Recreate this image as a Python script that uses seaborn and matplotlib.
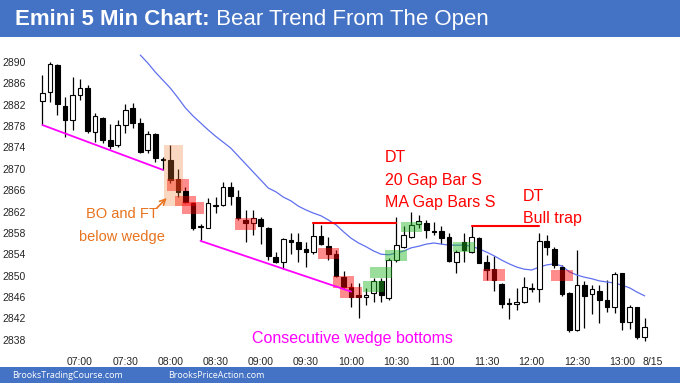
import matplotlib
matplotlib.use('Agg')
import matplotlib.pyplot as plt
from matplotlib.patches import Rectangle
from matplotlib.text import Annotation
import numpy as np
import pandas as pd
import seaborn as sns

sns.set_style('white')
plt.rcParams['font.family'] = ['Liberation Sans', 'DejaVu Sans']

# 5 min bars, 06:35 .. 13:15
opens = [2882.75, 2884.3, 2889.5, 2881.8, 2879.1, 2883.8, 2885.1, 2876.95, 2879.6, 2875.4,
         2874.5, 2878.2, 2881.3, 2878.6, 2873.5, 2876.6, 2871.9, 2871.6, 2868.1, 2865.9,
         2863.5, 2859.1, 2859.0, 2863.1, 2863.2, 2866.5, 2864.8, 2860.4, 2859.8, 2860.6,
         2858.9, 2853.4, 2852.6, 2856.7, 2856.2, 2855.0, 2854.4, 2857.4, 2855.5, 2854.0,
         2849.75, 2847.9, 2846.4, 2845.9, 2846.7, 2848.9, 2845.75, 2852.9, 2855.4, 2857.3,
         2859.7, 2859.9, 2858.35, 2858.35, 2857.2, 2852.6, 2856.2, 2854.5, 2857.0, 2852.6,
         2851.2, 2848.4, 2844.8, 2844.7, 2845.1, 2847.6, 2847.4, 2856.5, 2854.9, 2851.7,
         2846.7, 2839.8, 2848.2, 2846.55, 2847.2, 2845.4, 2844.1, 2850.4, 2841.4, 2844.2,
         2838.55]
closes = [2884.25, 2889.6, 2882.1, 2879.1, 2883.8, 2885.1, 2877.1, 2879.9, 2875.4, 2874.3,
          2878.2, 2881.1, 2878.6, 2873.2, 2876.5, 2872.0, 2871.7, 2867.9, 2865.7, 2863.8,
          2858.9, 2859.3, 2863.5, 2863.3, 2866.5, 2864.9, 2860.7, 2859.8, 2860.7, 2859.3,
          2853.7, 2852.6, 2856.85, 2856.3, 2854.9, 2854.4, 2857.5, 2855.9, 2854.0, 2849.9,
          2847.9, 2845.9, 2845.9, 2846.3, 2848.9, 2846.4, 2852.9, 2855.7, 2857.6, 2859.5,
          2860.3, 2858.5, 2858.1, 2857.0, 2852.8, 2854.5, 2854.8, 2857.2, 2852.4, 2851.05,
          2849.2, 2844.7, 2844.6, 2845.1, 2847.9, 2847.4, 2856.5, 2855.3, 2852.0, 2846.55,
          2839.9, 2848.2, 2846.2, 2847.5, 2845.4, 2844.1, 2850.25, 2841.4, 2844.2, 2838.45,
          2840.3]
highs = [2887.5, 2890.0, 2889.7, 2883.5, 2887.25, 2886.8, 2885.7, 2880.5, 2879.7, 2878.4,
         2879.1, 2882.1, 2882.3, 2879.5, 2877.0, 2876.7, 2872.3, 2874.5, 2869.9, 2866.5,
         2863.8, 2859.7, 2864.5, 2864.8, 2867.6, 2867.6, 2866.0, 2862.3, 2862.3, 2861.0,
         2859.1, 2854.5, 2857.1, 2857.9, 2858.0, 2856.35, 2859.9, 2859.5, 2857.2, 2854.8,
         2850.9, 2848.6, 2848.6, 2847.6, 2849.6, 2849.5, 2853.2, 2861.0, 2859.2, 2862.0,
         2861.35, 2860.4, 2860.1, 2859.2, 2857.9, 2854.8, 2857.9, 2859.2, 2857.2, 2853.9,
         2853.7, 2848.6, 2845.75, 2847.6, 2849.8, 2848.6, 2857.9, 2857.6, 2855.4, 2852.0,
         2847.0, 2854.7, 2848.9, 2848.2, 2848.2, 2849.2, 2850.7, 2850.5, 2844.5, 2844.2,
         2842.0]
lows = [2878.2, 2882.6, 2880.1, 2875.9, 2877.3, 2882.9, 2876.7, 2875.1, 2874.8, 2873.7,
        2874.1, 2876.7, 2877.6, 2873.0, 2873.0, 2871.3, 2869.8, 2867.3, 2864.8, 2863.5,
        2858.5, 2856.7, 2858.9, 2861.7, 2863.0, 2863.2, 2860.4, 2856.35, 2857.6, 2856.0,
        2852.9, 2852.3, 2851.2, 2854.0, 2852.6, 2851.7, 2854.0, 2855.7, 2852.9, 2849.7,
        2847.6, 2844.1, 2842.0, 2844.5, 2845.1, 2845.1, 2845.4, 2852.5, 2855.1, 2857.0,
        2858.9, 2857.0, 2857.6, 2856.0, 2852.6, 2850.5, 2852.6, 2854.2, 2852.4, 2849.2,
        2847.2, 2843.9, 2841.8, 2843.6, 2844.9, 2847.0, 2845.1, 2853.9, 2851.4, 2846.2,
        2839.5, 2839.6, 2840.1, 2842.8, 2841.1, 2843.2, 2842.9, 2839.8, 2840.0, 2838.1,
        2837.8]

# 20 bar moving average, visible from bar 13
ma_start = 13
ma = [2891.3, 2889.8, 2888.1, 2886.6, 2885.1, 2883.3, 2881.4, 2879.9, 2878.6, 2877.3,
      2876.1, 2875.0, 2873.9, 2872.4, 2870.9, 2869.4, 2867.9, 2866.4, 2865.7, 2864.7,
      2864.0, 2863.0, 2862.3, 2861.7, 2861.2, 2860.4, 2859.5, 2858.2, 2857.0, 2856.1,
      2855.4, 2854.6, 2854.0, 2853.9, 2854.2, 2854.6, 2855.2, 2855.5, 2855.9, 2856.1,
      2855.9, 2855.7, 2855.7, 2855.7, 2855.5, 2855.0, 2854.4, 2853.7, 2852.9, 2852.2,
      2851.6, 2851.2, 2851.05, 2851.6, 2852.0, 2852.2, 2851.8, 2850.7, 2850.1, 2849.7,
      2849.4, 2849.0, 2848.8, 2848.6, 2848.2, 2847.7, 2846.9, 2846.2]

tick_bars = [5, 11, 17, 23, 29, 35, 41, 47, 53, 59, 65, 71, 77, 81]
tick_labels = ['07:00', '07:30', '08:00', '08:30', '09:00', '09:30', '10:00', '10:30',
               '11:00', '11:30', '12:00', '12:30', '13:00', '8/15']
y_ticks = list(range(2838, 2891, 4))

# highlighted gap bars
red_box_bars = [18, 19, 20, 27, 38, 40, 41, 60, 69]
red_box_lo = [2865.9, 2863.0, 2861.6, 2858.5, 2853.1, 2847.6, 2845.75, 2849.0, 2849.05]
red_box_hi = [2868.1, 2864.9, 2863.7, 2860.7, 2855.1, 2849.9, 2847.8, 2851.2, 2851.05]
green_box_bars = [44, 45, 47, 49, 56]
green_box_lo = [2847.0, 2849.5, 2852.8, 2858.2, 2854.5]
green_box_hi = [2849.05, 2851.6, 2854.8, 2860.1, 2856.35]

# trend lines (bar index, price)
wedge1_bars, wedge1_px = [0, 16], [2878.2, 2869.8]
wedge2_bars, wedge2_px = [21, 41], [2856.5, 2847.0]
dt1_bars, dt1_px = [36, 47], [2859.9, 2859.9]
dt2_bars, dt2_px = [57, 66], [2859.2, 2859.2]

df = pd.DataFrame({'open': opens, 'high': highs, 'low': lows, 'close': closes})
df['bar'] = np.arange(len(df))
ma_df = pd.DataFrame({'bar': np.arange(ma_start, ma_start + len(ma)), 'ma': ma})

fig = plt.figure(figsize=(6.8, 3.83), dpi=100)
ax = fig.add_axes([30 / 680, 16 / 383, 638 / 680, 327 / 383])

# candles
up = df['close'] >= df['open']
ax.vlines(df['bar'], df['low'], df['high'], color='black', lw=0.9, zorder=2)
body_lo = df[['open', 'close']].min(axis=1)
body_h = (df['close'] - df['open']).abs().clip(lower=0.15)
ax.bar(df['bar'], body_h, bottom=body_lo, width=0.62,
       color=np.where(up, 'white', 'black'), edgecolor='black', linewidth=0.8, zorder=3)

sns.lineplot(data=ma_df, x='bar', y='ma', ax=ax, color='#6070F0', lw=0.9, zorder=2)

for b, lo, hi in zip(red_box_bars, red_box_lo, red_box_hi):
    ax.add_patch(Rectangle((b - 1.43, lo), 2.86, hi - lo, facecolor='#FF0000',
                           alpha=0.45, lw=0, zorder=4))
for b, lo, hi in zip(green_box_bars, green_box_lo, green_box_hi):
    ax.add_patch(Rectangle((b - 1.43, lo), 2.86, hi - lo, facecolor='#22B622',
                           alpha=0.45, lw=0, zorder=4))
ax.add_patch(Rectangle((16.15, 2863.0), 2.55, 11.5, facecolor='#ED7D31',
                       alpha=0.3, lw=0, zorder=4))

ax.plot(wedge1_bars, wedge1_px, color='#FF00FF', lw=1.3, zorder=5)
ax.plot(wedge2_bars, wedge2_px, color='#FF00FF', lw=1.3, zorder=5)
ax.plot(dt1_bars, dt1_px, color='#FF0000', lw=1.5, zorder=5)
ax.plot(dt2_bars, dt2_px, color='#FF0000', lw=1.5, zorder=5)

orange = '#E8731F'
red = '#FF0000'
ax.annotate('', xy=(16.77, 2864.9), xytext=(14.95, 2862.3),
            arrowprops=dict(arrowstyle='->', color=orange, lw=1.2))
ax.text(10.6, 2861.5, 'BO and FT', color=orange, fontsize=10.5, ha='center', va='center')
ax.text(10.6, 2857.2, 'below wedge', color=orange, fontsize=10.5, ha='center', va='center')
ax.text(45.5, 2872.2, 'DT', color=red, fontsize=11.5, ha='left', va='center')
ax.text(45.5, 2867.9, '20 Gap Bar S', color=red, fontsize=11.5, ha='left', va='center')
ax.text(45.5, 2863.6, 'MA Gap Bars S', color=red, fontsize=11.5, ha='left', va='center')
ax.text(63.8, 2864.9, 'DT', color=red, fontsize=11.5, ha='left', va='center')
ax.text(63.8, 2860.6, 'Bull trap', color=red, fontsize=11.5, ha='left', va='center')
ax.text(41.2, 2838.3, 'Consecutive wedge bottoms', color='#FF00FF', fontsize=11.5,
        ha='center', va='center')

ax.set_xlim(-1.65, 83.1)
ax.set_ylim(2832.88, 2894.12)
ax.set_xticks(tick_bars)
ax.set_xticklabels(tick_labels)
ax.set_yticks(y_ticks)
ax.tick_params(axis='x', length=0, pad=-7, labelsize=7.5)
ax.tick_params(axis='y', length=0, pad=3, labelsize=7.5)
ax.set_xlabel('')
ax.set_ylabel('')
for s in ax.spines.values():
    s.set_visible(False)

# title and footer bands
fig.patches.append(Rectangle((0, 1 - 37 / 383), 1, 37 / 383, transform=fig.transFigure,
                             facecolor='#4472C4', lw=0, zorder=0))
fig.patches.append(Rectangle((0, 0), 1, 16 / 383, transform=fig.transFigure,
                             facecolor='#4472C4', lw=0, zorder=0))
t1 = fig.text(15 / 680, 1 - 30 / 383, 'Emini 5 Min Chart:', color='white',
              fontsize=16, fontweight='bold', va='bottom')
t2 = Annotation(' Bear Trend From The Open', xy=(1, 0), xycoords=t1, color='white',
                fontsize=16, va='bottom', ha='left', annotation_clip=False)
fig.add_artist(t2)
fig.text(12 / 680, 7 / 383, 'BrooksTradingCourse.com', color='white', fontsize=6.5,
         family='Open Sans', va='center')
fig.text(168 / 680, 7 / 383, 'BrooksPriceAction.com', color='white', fontsize=6.5,
         family='Open Sans', va='center')

fig.savefig('out.png', dpi=100)
